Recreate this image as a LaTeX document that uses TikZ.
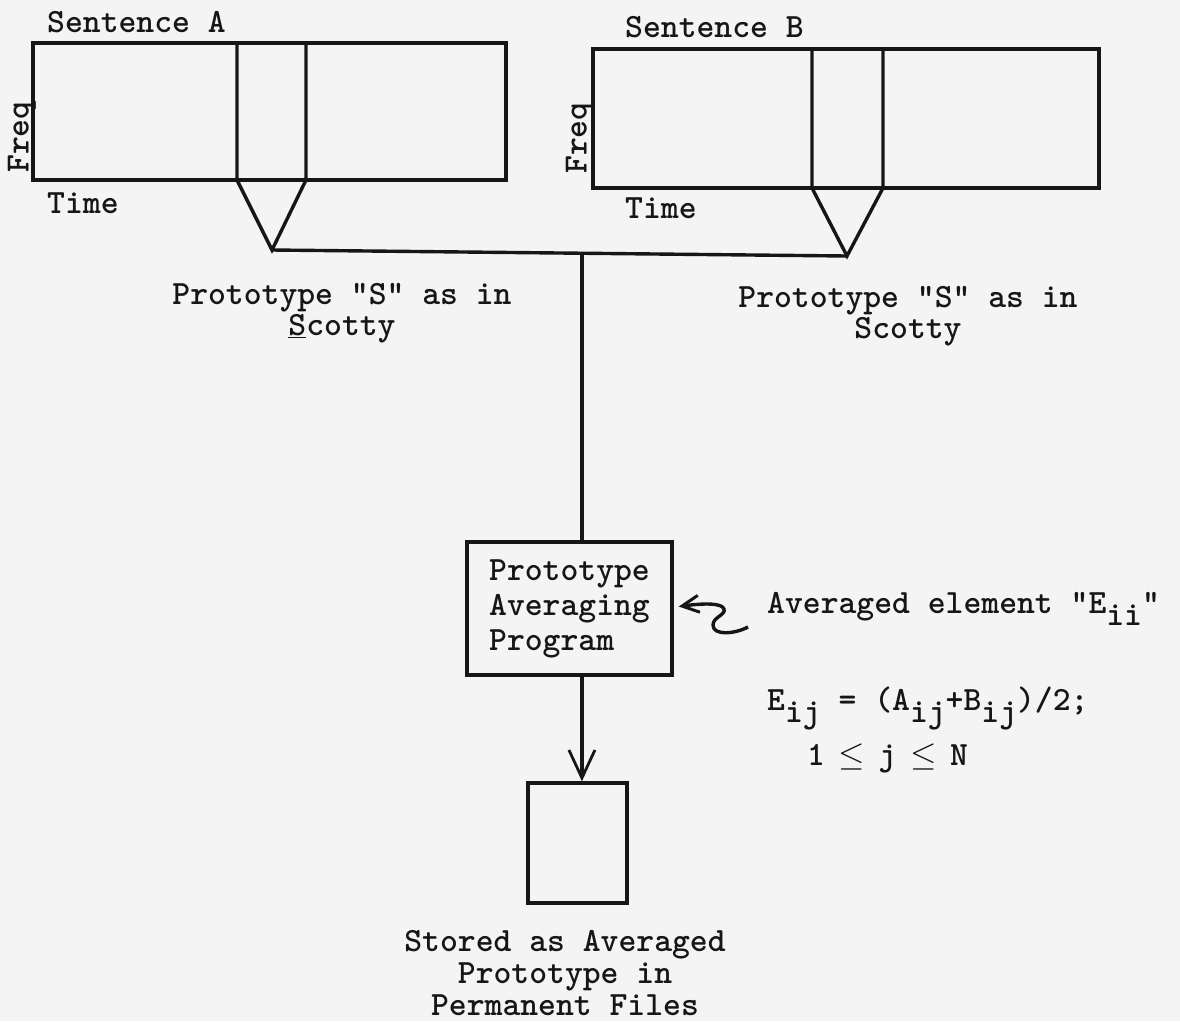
\RequirePackage{fix-cm}
\documentclass[tikz,border=0pt]{standalone}
\usepackage{tikz}
\usetikzlibrary{arrows.meta, positioning, calc}

\definecolor{paper}{RGB}{244,244,244}
\definecolor{ink}{RGB}{22,22,22}
\newcommand{\typefont}{\fontsize{34}{35}\selectfont\ttfamily\bfseries}
\newcommand{\labelfont}{\fontsize{34}{31}\selectfont\ttfamily\bfseries}
\newcommand{\storefont}{\fontsize{34}{32}\selectfont\ttfamily\bfseries}
\newcommand{\lowsub}[1]{\raisebox{-12pt}{#1}}
\newcommand{\leqc}{\makebox[0.525em]{$\leq$}}

\begin{document}
\begin{tikzpicture}[x=1pt, y=-1pt, color=ink,
  every node/.style={font=\typefont, inner sep=0pt},
  stroke/.style={line width=3.4pt},
  specbox/.style={draw, stroke, minimum height=137pt},
  progbox/.style={draw, stroke, align=left},
  barb/.style={-{Straight Barb[length=28pt, width=26pt, line width=2.8pt]}},
  smallbarb/.style={-{Straight Barb[length=17pt, width=17pt, line width=3pt]}}]
  % Page
  \fill[paper] (0,0) rectangle (1180,1021);
  \useasboundingbox (0,0) rectangle (1180,1021);

  % Spectrograms
  \node[specbox, minimum width=473pt] (specA) at (269.5,111.5) {};
  \node[specbox, minimum width=506pt, minimum height=139pt] (specB) at (846,118.5) {};
  \node[anchor=west] (sentA) at (47,22) {Sentence A};
  \node[anchor=west] (sentB) at (625,27) {Sentence B};
  \node[anchor=west] (timeA) at (47,203) {Time};
  \node[anchor=west] (timeB) at (625,208) {Time};
  \node[rotate=90] (freqA) at (22,137) {Freq};
  \node[rotate=90] (freqB) at (580,138) {Freq};

  % Slices and their V
  \coordinate (apexA) at (272,250);
  \coordinate (apexB) at (847,256);
  \draw[stroke] (237,43) -- (237,180) -- (apexA) -- (306,180) -- (306,43);
  \draw[stroke] (812,49) -- (812,188) -- (apexB) -- (883,188) -- (883,49);
  \draw[stroke] (apexA) -- (apexB) coordinate[pos=0.539] (join);

  % Slice labels
  \node[align=center, font=\labelfont] (protoA) at (342,313) {Prototype "S" as in\\\underline{S}cotty};
  \node[align=center, font=\labelfont] (protoB) at (908,316) {Prototype "S" as in\\Scotty};

  % Averaging program
  \node[progbox, minimum width=205pt, minimum height=133pt] (prog) at (569.5,608.5) {Prototype\\Averaging\\Program};
  \draw[stroke] (join) -- (join |- prog.north);

  % Averaged element
  \coordinate (squig) at (748,627);
  \coordinate (tipE) at ($(prog.east)+(5,-2)$);
  \draw[stroke, smallbarb] (squig) .. controls (735,634) and (713,636) .. (713,625)
    .. controls (713,617) and (726,615) .. (724,609)
    .. controls (722,603) and (705,603) .. (tipE);
  \node[anchor=base west] (elem) at (767,613) {Averaged element "E\lowsub{ii}"};
  \node[anchor=base west] (formula) at (767,710) {E\lowsub{ij} = (A\lowsub{ij}+B\lowsub{ij})/2;};
  \node[anchor=base west] (range) at (807,765) {1 \leqc{} j \leqc{} N};

  % Stored prototype
  \node[draw, stroke, minimum width=99pt, minimum height=120pt] (store) at (577.5,843) {};
  \draw[stroke, barb] (join |- prog.south) -- (join |- store.north);
  \node[align=center, font=\storefont] (storelbl) at (565,973) {Stored as Averaged\\Prototype in\\Permanent Files};
\end{tikzpicture}
\end{document}
